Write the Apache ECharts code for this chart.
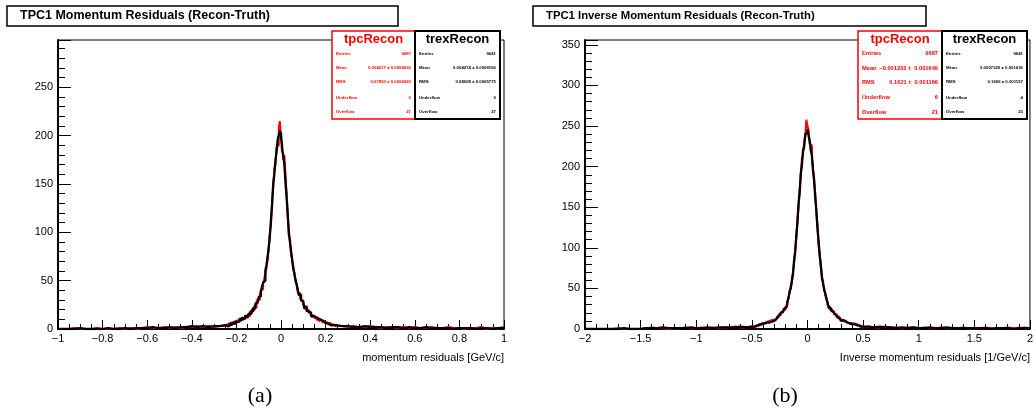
<!DOCTYPE html>
<html>
<head>
<meta charset="utf-8">
<script src="https://cdn.jsdelivr.net/npm/echarts@6/dist/echarts.min.js"></script>
<style>
html, body { margin: 0; padding: 0; background: #fff; }
#main { width: 1036px; height: 417px; }
</style>
</head>
<body>
<div id="main"></div>
<script>
// bin layout of each histogram: [first edge, bin width, number of bins]
var momBins = [[-1, 0.025, 30], [-0.25, 0.005, 100], [0.25, 0.025, 30]];
var invBins = [[-2, 0.05, 30], [-0.5, 0.01, 100], [0.5, 0.05, 30]];

// (a) momentum residuals, tpcRecon (red)
var momTpcLo = [0,0,1,0,0,0,1,0,0,0, 1,0,1,0,1,2,1,1,2,1, 2,1,2,2,3,2,3,2,3,3];
var momTpcCore = [
  3,5,2,6,4,7,5,4,8,6,
  9,7,10,8,11,9,12,10,13,11,
  15,13,18,16,21,19,24,22,28,31,
  30,36,40,41,47,52,58,63,72,85,
  99,108,133,146,165,170,188,190,208,215,
  196,192,175,180,160,140,116,104,88,83,
  70,66,55,52,47,38,37,33,29,30,
  25,22,24,18,20,17,15,16,12,14,
  11,13,9,12,8,10,9,7,9,6,
  7,5,6,4,6,3,5,4,3,2];
var momTpcHi = [3,2,3,2,2,3,2,1,2,2, 1,2,1,2,1,1,2,1,1,2, 1,1,0,1,1,2,0,1,1,2];

// (a) momentum residuals, trexRecon (black)
var momTrexLo = [0,0,0,1,0,0,0,0,1,0, 0,1,0,1,1,1,2,1,1,2, 1,2,2,3,2,3,2,3,3,4];
var momTrexCore = [
  4,3,5,3,6,4,5,7,5,8,
  7,9,8,11,9,12,10,11,14,12,
  14,16,15,19,18,22,21,26,27,29,
  33,34,39,44,48,50,61,66,75,84,
  96,113,128,150,160,174,183,196,200,205,
  202,185,180,170,152,137,120,98,92,79,
  72,62,58,50,46,41,35,36,30,28,
  27,21,23,19,18,16,17,13,14,12,
  12,10,11,9,10,8,9,8,7,8,
  6,7,5,6,4,5,4,3,4,3];
var momTrexHi = [3,3,2,2,3,2,2,2,1,2, 2,1,2,1,1,2,1,1,1,1, 0,1,1,1,0,1,1,0,1,1];

// (b) inverse momentum residuals, tpcRecon (red)
var invTpcLo = [0,0,0,0,0,1,0,0,0,0, 1,2,1,1,0,1,1,2,1,1, 2,1,2,1,2,2,3,2,2,3];
var invTpcCore = [
  3,2,4,3,5,4,6,5,7,6,
  7,8,6,9,8,10,9,11,10,11,
  12,13,15,14,18,17,21,20,24,23,
  27,29,33,40,45,53,57,71,82,98,
  112,136,150,173,188,210,214,230,236,258,
  250,245,228,226,210,198,180,166,142,128,
  104,93,76,66,54,51,42,39,30,28,
  24,25,21,22,18,19,15,16,13,12,
  11,10,11,9,10,8,9,7,8,7,
  6,7,5,6,4,5,3,4,3,2];
var invTpcHi = [3,2,2,3,2,2,1,2,2,1, 2,1,1,2,1,1,1,2,1,1, 1,2,1,1,1,2,1,1,2,1];

// (b) inverse momentum residuals, trexRecon (black)
var invTrexLo = [0,0,0,0,0,0,1,0,0,0, 1,1,1,2,1,1,1,1,2,1, 1,2,1,2,2,2,2,3,2,3];
var invTrexCore = [
  2,3,3,4,4,5,5,6,6,7,
  6,7,8,8,9,8,10,9,11,10,
  11,12,14,15,17,18,20,21,22,25,
  26,28,34,38,47,50,60,68,85,95,
  116,131,155,168,192,202,220,224,240,242,
  246,238,232,220,214,195,184,162,146,124,
  108,90,79,63,57,48,44,37,33,26,
  26,23,22,20,19,17,16,14,14,12,
  10,11,9,10,9,8,8,7,7,6,
  6,6,5,5,4,4,4,3,3,3];
var invTrexHi = [3,2,3,2,2,1,2,1,2,1, 1,2,1,1,2,1,1,1,1,1, 1,1,0,1,1,1,0,1,1,1];

// stat boxes
var statRows = ['Entries', 'Mean', 'RMS', 'Underflow', 'Overflow'];
var momTpcStats = ['9687', '0.004217 \u00b1 0.0008026', '0.07893 \u00b1 0.0005683', '0', '21'];
var momTrexStats = ['9641', '0.004274 \u00b1 0.0008166', '0.08008 \u00b1 0.0005775', '0', '27'];
var invTpcStats = ['9687', '\u22120.001233 \u00b1  0.001649', '0.1621 \u00b1  0.001166', '6', '21'];
var invTrexStats = ['9641', '0.0007326 \u00b1 0.001636', '0.1606 \u00b1 0.001157', '4', '23'];

var FONT = 'Liberation Sans, Arial, Helvetica, sans-serif';

function histPoints(bins, parts) {
    var pts = [];
    var last = 0, end = 0;
    for (var k = 0; k < bins.length; k++) {
        for (var i = 0; i < bins[k][2]; i++) {
            pts.push([+(bins[k][0] + i * bins[k][1]).toFixed(4), parts[k][i]]);
            last = parts[k][i];
        }
        end = +(bins[k][0] + bins[k][2] * bins[k][1]).toFixed(4);
    }
    pts.push([end, last]);
    return pts;
}

function tickFmt(v) {
    return String(+(+v).toFixed(3)).replace('-', '\u2212');
}

function xAxisFor(idx, min, max, step, minorSplit) {
    return {
        gridIndex: idx, type: 'value', min: min, max: max, interval: step,
        axisLine: { show: true, onZero: false, lineStyle: { color: '#000', width: 2 } },
        axisTick: { show: true, inside: true, length: 9, lineStyle: { color: '#000', width: 1 } },
        minorTick: { show: true, splitNumber: minorSplit, length: 5, lineStyle: { color: '#000', width: 1 } },
        axisLabel: { color: '#000', fontSize: 11, fontFamily: FONT, margin: 4, formatter: tickFmt },
        splitLine: { show: false }
    };
}

function yAxisFor(idx, max) {
    return {
        gridIndex: idx, type: 'value', min: 0, max: max, interval: 50,
        axisLine: { show: true, onZero: false, lineStyle: { color: '#000', width: 2 } },
        axisTick: { show: true, inside: true, length: 13, lineStyle: { color: '#000', width: 1 } },
        minorTick: { show: true, splitNumber: 5, length: 7, lineStyle: { color: '#000', width: 1 } },
        axisLabel: { color: '#000', fontSize: 11, fontFamily: FONT, margin: 5, showMaxLabel: false },
        splitLine: { show: false }
    };
}

function histSeries(idx, data, color, width) {
    return {
        type: 'line', xAxisIndex: idx, yAxisIndex: idx, data: data,
        step: 'end', symbol: 'none', silent: true,
        lineStyle: { color: color, width: width }
    };
}

function statBox(x, w, color, title, values, fs, lineW) {
    var y = 31, h = 88;
    var rowsY = [53.5, 68, 82, 97.5, 112];
    var els = [{
        type: 'rect', z: 100,
        shape: { x: x, y: y, width: w, height: h },
        style: { fill: '#fff', stroke: color, lineWidth: lineW }
    }, {
        type: 'text', z: 101,
        style: { x: x + w / 2, y: 39.5, text: title, fill: color,
                 font: 'bold 13px ' + FONT, align: 'center', verticalAlign: 'middle' }
    }];
    for (var i = 0; i < statRows.length; i++) {
        els.push({
            type: 'text', z: 101,
            style: { x: x + 4, y: rowsY[i], text: statRows[i], fill: color,
                     font: 'bold ' + fs + 'px ' + FONT, align: 'left', verticalAlign: 'middle' }
        });
        els.push({
            type: 'text', z: 101,
            style: { x: x + w - 4, y: rowsY[i], text: values[i], fill: color,
                     font: 'bold ' + fs + 'px ' + FONT, align: 'right', verticalAlign: 'middle' }
        });
    }
    return els;
}

function titleBox(x, w, text, fs) {
    return [{
        type: 'rect', z: 100,
        shape: { x: x, y: 6, width: w, height: 20 },
        style: { fill: '#fff', stroke: '#000', lineWidth: 1.5 }
    }, {
        type: 'text', z: 101,
        style: { x: x + 13, y: 16, text: text, fill: '#000',
                 font: 'bold ' + fs + 'px ' + FONT, align: 'left', verticalAlign: 'middle' }
    }];
}

function plainText(x, y, text, font, align) {
    return { type: 'text', z: 101,
             style: { x: x, y: y, text: text, fill: '#000', font: font, align: align, verticalAlign: 'middle' } };
}

var graphics = []
    .concat(titleBox(7, 391, 'TPC1 Momentum Residuals (Recon-Truth)', 12.5))
    .concat(titleBox(533, 393, 'TPC1 Inverse Momentum Residuals (Recon-Truth)', 11.3))
    .concat(statBox(332, 83, '#ff0000', 'tpcRecon', momTpcStats, 4.3, 1.5))
    .concat(statBox(415, 85, '#000000', 'trexRecon', momTrexStats, 4.3, 2))
    .concat(statBox(858, 84, '#ff0000', 'tpcRecon', invTpcStats, 5.7, 1.5))
    .concat(statBox(942, 85, '#000000', 'trexRecon', invTrexStats, 4.3, 2));
graphics.push(plainText(504, 358, 'momentum residuals [GeV/c]', '11px ' + FONT, 'right'));
graphics.push(plainText(1030, 358, 'Inverse momentum residuals [1/GeV/c]', '11px ' + FONT, 'right'));
graphics.push(plainText(260, 396, '(a)', '22px Liberation Serif, DejaVu Serif, serif', 'center'));
graphics.push(plainText(785, 396, '(b)', '22px Liberation Serif, DejaVu Serif, serif', 'center'));

var chart = echarts.init(document.getElementById('main'), null, { renderer: 'canvas' });
chart.setOption({
    animation: false,
    backgroundColor: '#fff',
    grid: [
        { left: 58, top: 40, width: 446, height: 289, show: true, borderColor: '#000', borderWidth: 1, backgroundColor: 'transparent' },
        { left: 585, top: 40, width: 445, height: 289, show: true, borderColor: '#000', borderWidth: 1, backgroundColor: 'transparent' }
    ],
    xAxis: [xAxisFor(0, -1, 1, 0.2, 4), xAxisFor(1, -2, 2, 0.5, 5)],
    yAxis: [yAxisFor(0, 299), yAxisFor(1, 356)],
    series: [
        histSeries(0, histPoints(momBins, [momTpcLo, momTpcCore, momTpcHi]), '#ff0000', 2),
        histSeries(0, histPoints(momBins, [momTrexLo, momTrexCore, momTrexHi]), '#000000', 2.3),
        histSeries(1, histPoints(invBins, [invTpcLo, invTpcCore, invTpcHi]), '#ff0000', 2),
        histSeries(1, histPoints(invBins, [invTrexLo, invTrexCore, invTrexHi]), '#000000', 2.3)
    ],
    graphic: graphics
});
</script>
</body>
</html>
